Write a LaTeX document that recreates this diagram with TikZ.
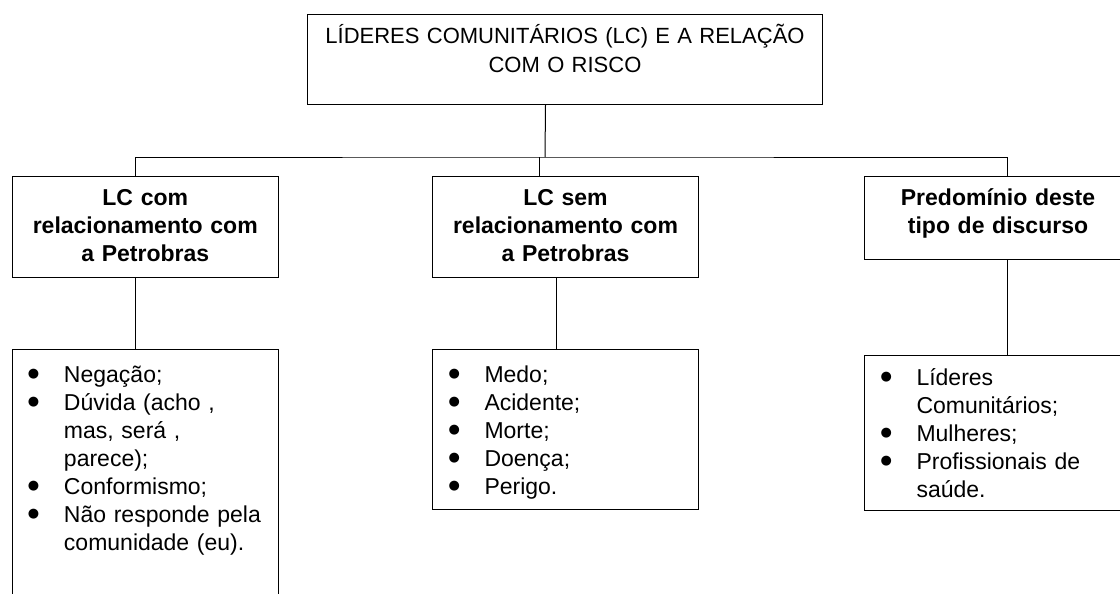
\documentclass[tikz,border=0pt]{standalone}
\usepackage{fontspec}
\setmainfont{Liberation Sans}
\newfontfamily\simbolo{DejaVu Sans}
\usepackage{tikz}
\usetikzlibrary{positioning}

\tikzset{
	caixa/.style={draw, line width=1pt, inner sep=0pt, anchor=north west},
	titulo/.style={caixa, align=center, font=\fontsize{22}{29.5}\selectfont},
	grupo/.style={caixa, align=center, font=\bfseries\fontsize{23}{28}\selectfont},
	lista/.style={caixa, align=left, font=\fontsize{23}{28}\selectfont},
	liga/.style={line width=1pt}
}
\newcommand{\marca}{\hspace*{16pt}\makebox[36pt][l]{\raisebox{5pt}{\simbolo\fontsize{13}{13}\selectfont ●}}}
\newcommand{\recuo}{\hspace*{52pt}}

\begin{document}
\begin{tikzpicture}[x=1pt, y=-1pt]
	\clip (0,0) rectangle (1120,594);
	\fill[white] (0,0) rectangle (1120,594);
	\node[titulo, text width=515pt, text height=29pt, text depth=61pt] (risco) at (307,14) {LÍDERES COMUNITÁRIOS (LC) E A RELAÇÃO\\COM O RISCO};
	\node[grupo, text width=266.5pt, text height=29pt, text depth=72pt] (lcCom) at (11.5,176) {LC com\\relacionamento com\\a Petrobras};
	\node[grupo, text width=266pt, text height=29pt, text depth=72pt] (lcSem) at (432,176) {LC sem\\relacionamento com\\a Petrobras};
	\node[grupo, text width=267pt, text height=29pt, text depth=54pt] (predominio) at (864,176) {Predomínio deste\\tipo de discurso};
	\node[lista, text width=266.5pt, text height=33pt, text depth=260pt] (listaCom) at (11.5,349) {\marca Negação;\\\marca Dúvida (acho ,\\\recuo mas, será ,\\\recuo parece);\\\marca Conformismo;\\\marca Não responde pela\\\recuo comunidade (eu).};
	\node[lista, text width=266pt, text height=33pt, text depth=127pt] (listaSem) at (432,349) {\marca Medo;\\\marca Acidente;\\\marca Morte;\\\marca Doença;\\\marca Perigo.};
	\node[lista, text width=267pt, text height=30pt, text depth=125pt] (listaDiscurso) at (864,355) {\marca Líderes\\\recuo Comunitários;\\\marca Mulheres;\\\marca Profissionais de\\\recuo saúde.};
	\coordinate (barra) at (545,157);
	\draw[liga] ([xshift=-19.5pt]risco.south) -- (barra);
	\draw[liga] ([xshift=-9.5pt]lcCom.north) |- (barra) -| ([xshift=9.5pt]predominio.north);
	\draw[liga] ([xshift=-26pt]lcSem.north) -- ++(0,-19);
	\draw[liga] ([xshift=-9.5pt]lcCom.south) -- ([xshift=-9.5pt]listaCom.north);
	\draw[liga] ([xshift=-9pt]lcSem.south) -- ([xshift=-9pt]listaSem.north);
	\draw[liga] ([xshift=9.5pt]predominio.south) -- ([xshift=9.5pt]listaDiscurso.north);
\end{tikzpicture}
\end{document}
